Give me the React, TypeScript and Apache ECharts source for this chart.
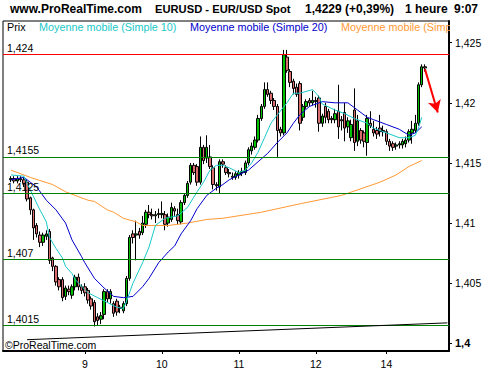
import React, { useEffect, useRef } from 'react';
import * as echarts from 'echarts';

const FONT = '"Liberation Sans", Arial, Helvetica, sans-serif';

// trading sessions: [day, first hour, last hour]
const sessions: [number, number, number][] = [
  [7, 23, 23], [8, 0, 23], [9, 0, 23], [10, 0, 23], [11, 0, 23], [12, 0, 19], [13, 22, 23], [14, 0, 19],
];
const times: string[] = sessions.flatMap(([day, from, to]) =>
  Array.from({ length: to - from + 1 }, (_, k) => `${day} ${String(from + k).padStart(2, '0')}:00`)
);

const opens = [
  null, null,
  1.4136, 1.4137, 1.4135, 1.4137, 1.4136, 1.4134, 1.4121, 1.4111, 1.4098, 1.4090,
  1.4084, 1.4089, 1.4093, 1.4071, 1.4064, 1.4053, 1.4053, 1.4039, 1.4045, 1.4040,
  1.4047, 1.4055, 1.4047, 1.4047, 1.4044, 1.4037, 1.4034, 1.4022, 1.4020, 1.4024,
  1.4043, 1.4037, 1.4033, 1.4035, 1.4030, 1.4027, 1.4033, 1.4054, 1.4091, 1.4090,
  1.4093, 1.4092, 1.4099, 1.4109, 1.4107, 1.4106, 1.4108, 1.4107, 1.4107, 1.4100,
  1.4103, 1.4112, 1.4107, 1.4101, 1.4117, 1.4123, 1.4134, 1.4148, 1.4147, 1.4134,
  1.4163, 1.4154, 1.4155, 1.4146, 1.4132, 1.4130, 1.4151, 1.4146, 1.4142, 1.4139,
  1.4138, 1.4140, 1.4142, 1.4142, 1.4150, 1.4160, 1.4163, 1.4169, 1.4187, 1.4197,
  1.4211, 1.4208, 1.4202, 1.4197, 1.4178, 1.4175, 1.4238, 1.4226, 1.4218, 1.4213,
  1.4216, 1.4188, 1.4197, 1.4202, 1.4200, 1.4202, 1.4204, 1.4183, 1.4197, 1.4193,
  1.4187, 1.4186, 1.4193, 1.4186, 1.4192, 1.4180, 1.4171, 1.4194, 1.4168, 1.4177,
  1.4175, 1.4167, 1.4183, 1.4178, 1.4177, 1.4179, 1.4177, 1.4176, 1.4168, 1.4166,
  1.4164, 1.4165, 1.4165, 1.4166, 1.4169, 1.4175, 1.4177, 1.4183, 1.4215, 1.4230,
];
const highs = [
  null, null,
  1.4139, 1.4139, 1.4139, 1.4139, 1.4138, 1.4136, 1.4122, 1.4112, 1.4100, 1.4093,
  1.4092, 1.4094, 1.4095, 1.4072, 1.4065, 1.4055, 1.4055, 1.4048, 1.4048, 1.4049,
  1.4057, 1.4058, 1.4049, 1.4050, 1.4046, 1.4039, 1.4036, 1.4025, 1.4026, 1.4045,
  1.4045, 1.4045, 1.4035, 1.4037, 1.4032, 1.4035, 1.4056, 1.4090, 1.4094, 1.4102,
  1.4096, 1.4106, 1.4111, 1.4115, 1.4112, 1.4110, 1.4112, 1.4118, 1.4110, 1.4108,
  1.4117, 1.4114, 1.4112, 1.4119, 1.4125, 1.4135, 1.4150, 1.4150, 1.4149, 1.4172,
  1.4165, 1.4173, 1.4165, 1.4148, 1.4134, 1.4153, 1.4153, 1.4148, 1.4145, 1.4142,
  1.4143, 1.4144, 1.4146, 1.4152, 1.4163, 1.4167, 1.4172, 1.4190, 1.4199, 1.4217,
  1.4217, 1.4210, 1.4204, 1.4199, 1.4180, 1.4244, 1.4244, 1.4228, 1.4220, 1.4216,
  1.4218, 1.4199, 1.4203, 1.4204, 1.4210, 1.4205, 1.4206, 1.4191, 1.4200, 1.4195,
  1.4189, 1.4195, 1.4215, 1.4189, 1.4200, 1.4188, 1.4186, 1.4212, 1.4190, 1.4179,
  1.4177, 1.4190, 1.4193, 1.4185, 1.4180, 1.4190, 1.4181, 1.4178, 1.4170, 1.4168,
  1.4167, 1.4168, 1.4170, 1.4172, 1.4178, 1.4185, 1.4190, 1.4217, 1.4232, 1.4232,
];
const lows = [
  null, null,
  1.4134, 1.4133, 1.4133, 1.4134, 1.4130, 1.4118, 1.4107, 1.4086, 1.4088, 1.4080,
  1.4081, 1.4086, 1.4066, 1.4060, 1.4048, 1.4044, 1.4035, 1.4036, 1.4040, 1.4037,
  1.4044, 1.4044, 1.4041, 1.4039, 1.4033, 1.4028, 1.4014, 1.4015, 1.4016, 1.4020,
  1.4034, 1.4033, 1.4022, 1.4023, 1.4025, 1.4025, 1.4031, 1.4052, 1.4083, 1.4069,
  1.4087, 1.4090, 1.4096, 1.4104, 1.4103, 1.4100, 1.4104, 1.4104, 1.4094, 1.4097,
  1.4101, 1.4106, 1.4099, 1.4099, 1.4115, 1.4121, 1.4132, 1.4140, 1.4131, 1.4132,
  1.4149, 1.4150, 1.4145, 1.4128, 1.4127, 1.4125, 1.4146, 1.4140, 1.4138, 1.4136,
  1.4136, 1.4137, 1.4139, 1.4140, 1.4148, 1.4157, 1.4161, 1.4167, 1.4185, 1.4195,
  1.4205, 1.4199, 1.4194, 1.4155, 1.4172, 1.4173, 1.4225, 1.4213, 1.4207, 1.4205,
  1.4177, 1.4185, 1.4195, 1.4197, 1.4198, 1.4196, 1.4176, 1.4180, 1.4183, 1.4183,
  1.4183, 1.4183, 1.4170, 1.4177, 1.4168, 1.4175, 1.4168, 1.4160, 1.4164, 1.4166,
  1.4163, 1.4156, 1.4179, 1.4172, 1.4170, 1.4172, 1.4172, 1.4165, 1.4160, 1.4160,
  1.4161, 1.4162, 1.4162, 1.4163, 1.4167, 1.4166, 1.4175, 1.4181, 1.4213, 1.4226,
];
const closes = [
  null, null,
  1.4137, 1.4135, 1.4137, 1.4136, 1.4133, 1.4120, 1.4111, 1.4096, 1.4091, 1.4084,
  1.4090, 1.4091, 1.4069, 1.4064, 1.4051, 1.4047, 1.4038, 1.4046, 1.4043, 1.4047,
  1.4055, 1.4047, 1.4044, 1.4042, 1.4036, 1.4031, 1.4018, 1.4019, 1.4023, 1.4043,
  1.4037, 1.4043, 1.4025, 1.4026, 1.4029, 1.4033, 1.4054, 1.4088, 1.4088, 1.4091,
  1.4090, 1.4100, 1.4109, 1.4107, 1.4106, 1.4107, 1.4107, 1.4108, 1.4099, 1.4105,
  1.4113, 1.4110, 1.4102, 1.4117, 1.4123, 1.4133, 1.4148, 1.4142, 1.4134, 1.4163,
  1.4152, 1.4163, 1.4147, 1.4132, 1.4131, 1.4151, 1.4149, 1.4142, 1.4141, 1.4138,
  1.4141, 1.4142, 1.4143, 1.4150, 1.4161, 1.4164, 1.4169, 1.4187, 1.4197, 1.4211,
  1.4207, 1.4202, 1.4197, 1.4177, 1.4175, 1.4240, 1.4227, 1.4217, 1.4212, 1.4207,
  1.4183, 1.4197, 1.4201, 1.4200, 1.4202, 1.4201, 1.4183, 1.4189, 1.4188, 1.4186,
  1.4186, 1.4191, 1.4180, 1.4185, 1.4179, 1.4185, 1.4182, 1.4167, 1.4185, 1.4169,
  1.4168, 1.4187, 1.4181, 1.4175, 1.4174, 1.4176, 1.4176, 1.4168, 1.4164, 1.4163,
  1.4165, 1.4166, 1.4168, 1.4169, 1.4176, 1.4178, 1.4183, 1.4215, 1.4230, 1.4229,
];

// moving averages: [candle index, value]
const ma10: [number, number][] = [
  [2, 1.4140], [6, 1.4139], [7, 1.4133], [9, 1.4122], [11, 1.4111], [13, 1.4101], [14, 1.4088],
  [16, 1.4079], [18, 1.4071], [19, 1.4064], [21, 1.4058], [22, 1.4053], [26, 1.4042], [29, 1.4038],
  [32, 1.4034], [35, 1.4030], [37, 1.4029], [38, 1.4035], [40, 1.4050], [43, 1.4067], [45, 1.4080],
  [47, 1.4098], [50, 1.4104], [54, 1.4106], [57, 1.4113], [60, 1.4126], [62, 1.4134], [64, 1.4144],
  [66, 1.4148], [68, 1.4148], [70, 1.4146], [73, 1.4142], [75, 1.4144], [77, 1.4150], [79, 1.4159],
  [81, 1.4171], [83, 1.4183], [85, 1.4190], [88, 1.4200], [90, 1.4208], [92, 1.4208], [96, 1.4211],
  [98, 1.4205], [99, 1.4199], [103, 1.4194], [106, 1.4191], [109, 1.4187], [113, 1.4183], [115, 1.4179],
  [119, 1.4175], [123, 1.4171], [126, 1.4171], [128, 1.4173], [129, 1.4179], [130, 1.4188],
];
const ma20: [number, number][] = [
  [2, 1.4136], [6, 1.4138], [8, 1.4134], [10, 1.4130], [13, 1.4119], [16, 1.4111], [19, 1.4100],
  [21, 1.4086], [24, 1.4072], [25, 1.4067], [28, 1.4054], [31, 1.4046], [34, 1.4039], [37, 1.4038],
  [40, 1.4039], [43, 1.4047], [45, 1.4054], [48, 1.4067], [51, 1.4076], [53, 1.4081], [55, 1.4091],
  [58, 1.4102], [60, 1.4112], [63, 1.4123], [66, 1.4129], [68, 1.4132], [70, 1.4136], [73, 1.4140],
  [76, 1.4144], [79, 1.4151], [82, 1.4158], [85, 1.4167], [88, 1.4175], [90, 1.4183], [92, 1.4190],
  [95, 1.4197], [99, 1.4201], [103, 1.4200], [107, 1.4200], [110, 1.4194], [113, 1.4188], [115, 1.4186],
  [119, 1.4182], [123, 1.4178], [126, 1.4173], [128, 1.4175], [130, 1.4180],
];
const maLong: [number, number][] = [
  [2, 1.4144], [8, 1.4138], [15, 1.4132], [19, 1.4126], [23, 1.4122], [26, 1.4119], [28, 1.4118],
  [32, 1.4111], [34, 1.4109], [37, 1.4104], [41, 1.4101], [43, 1.4098], [45, 1.4098], [51, 1.4098],
  [57, 1.4100], [63, 1.4103], [68, 1.4104], [80, 1.4109], [92, 1.4116], [105, 1.4123], [117, 1.4134],
  [122, 1.4140], [126, 1.4147], [130, 1.4152],
];

const resistanceLevels = [1.424];
const supportLevels = [1.4155, 1.4125, 1.407, 1.4015];
const trendFrom: [number, number] = [7, 1.4003];
const trendTo: [number, number] = [138, 1.4017];
const arrowFrom: [number, number] = [131, 1.4228];
const arrowTo: [number, number] = [135, 1.4192];
const yTicks = [1.4, 1.405, 1.41, 1.415, 1.42, 1.425];

const CYAN = '#19c8c8';
const BLUE = '#0000cc';
const ORANGE = '#ff9933';

const fmt = (v: number) => String(Number(v.toFixed(4))).replace('.', ',');

function buildOption() {
  const candles = times.map((_, i) =>
    opens[i] == null ? '-' : [opens[i], closes[i], lows[i], highs[i]]
  );
  const levelItem = (v: number, color: string) => ({
    yAxis: v,
    lineStyle: { color, width: 1, type: 'solid' },
    label: {
      show: true,
      position: 'insideStartTop',
      formatter: fmt(v),
      color: '#000',
      fontSize: 10.5,
      fontFamily: FONT,
      distance: [4, 1],
    },
  });
  const markData: any[] = [
    ...resistanceLevels.map((v) => levelItem(v, '#ff0000')),
    ...supportLevels.map((v) => levelItem(v, '#008000')),
    [
      { coord: [times[trendFrom[0]], trendFrom[1]], lineStyle: { color: '#000', width: 1, type: 'solid' }, label: { show: false } },
      { coord: [times[trendTo[0]], trendTo[1]] },
    ],
    [
      { coord: [times[arrowFrom[0]], arrowFrom[1]], symbol: 'none', lineStyle: { color: '#ff0000', width: 2, type: 'solid' }, label: { show: false } },
      { coord: [times[arrowTo[0]], arrowTo[1]], symbol: 'arrow', symbolSize: [10, 12] },
    ],
  ];

  const txt = (x: number, y: number, text: string, fill: string, font: string, z = 5) => ({
    type: 'text',
    x,
    y,
    z,
    silent: true,
    style: { text, fill, font, align: 'left', verticalAlign: 'middle' },
  });
  const titleFont = `bold 12px ${FONT}`;
  const legendFont = `10.8px ${FONT}`;

  const showDay = (i: number, v: string) => i >= 12 && v.endsWith(' 00:00');

  const lineSeries = (data: [number, number][], color: string) => ({
    type: 'line',
    data,
    symbol: 'none',
    smooth: false,
    lineStyle: { color, width: 1 },
    itemStyle: { color },
    z: 4,
    silent: true,
  });

  return {
    animation: false,
    backgroundColor: '#ffffff',
    grid: { left: 3, right: 51, top: 21, bottom: 19, show: true, borderColor: '#000', borderWidth: 1 },
    xAxis: {
      type: 'category',
      data: times,
      boundaryGap: true,
      axisLine: { show: true, lineStyle: { color: '#000', width: 2 } },
      axisTick: { show: true, length: 3, alignWithLabel: true, interval: showDay, lineStyle: { color: '#000' } },
      axisLabel: {
        interval: showDay,
        formatter: (v: string) => v.split(' ')[0],
        color: '#000',
        fontSize: 10.5,
        fontFamily: FONT,
        margin: 7,
      },
      splitLine: { show: false },
    },
    yAxis: {
      type: 'value',
      position: 'right',
      min: 1.39936,
      max: 1.426805,
      axisLine: { show: true, lineStyle: { color: '#000', width: 2 } },
      axisTick: { show: true, length: 3, customValues: yTicks, lineStyle: { color: '#000' } },
      axisLabel: {
        customValues: yTicks,
        formatter: (v: number) => (v < 1.4001 ? `{b|${fmt(v)}}` : fmt(v)),
        color: '#000',
        fontSize: 10.5,
        fontFamily: FONT,
        margin: 6,
        rich: { b: { fontWeight: 'bold', fontSize: 11, fontFamily: FONT, color: '#000' } },
      },
      splitLine: { show: false },
    },
    graphic: [
      txt(10, 8.5, 'www.ProRealTime.com', '#000', titleFont),
      txt(155, 8.5, 'EURUSD - EUR/USD Spot', '#000', `bold 11.2px ${FONT}`),
      txt(305, 8.5, '1,4229 (+0,39%)', '#000', titleFont),
      txt(405, 8.5, '1 heure', '#000', titleFont),
      txt(454, 8.5, '9:07', '#000', titleFont),
      txt(7, 27, 'Prix', '#000', legendFont),
      txt(39, 27, 'Moyenne mobile (Simple 10)', CYAN, legendFont),
      txt(190, 27, 'Moyenne mobile (Simple 20)', BLUE, legendFont),
      txt(341, 27, 'Moyenne mobile (Simple 100)', ORANGE, legendFont),
      { type: 'rect', z: 6, silent: true, shape: { x: 450, y: 19, width: 50, height: 17 }, style: { fill: '#ffffff' } },
      txt(5, 344.5, '\u00A9ProRealTime.com', '#000', `10.5px ${FONT}`),
    ],
    series: [
      {
        type: 'candlestick',
        data: candles,
        barWidth: 3,
        z: 3,
        silent: true,
        itemStyle: {
          color: '#00c000',
          color0: '#d96c6c',
          borderColor: '#000',
          borderColor0: '#000',
          borderWidth: 1,
        },
        markLine: {
          silent: true,
          symbol: ['none', 'none'],
          precision: 5,
          animation: false,
          data: markData,
        },
      },
      lineSeries(maLong, ORANGE),
      lineSeries(ma20, BLUE),
      lineSeries(ma10, CYAN),
    ],
  };
}

export default function App() {
  const ref = useRef<HTMLDivElement>(null);
  useEffect(() => {
    if (!ref.current) return;
    const chart = echarts.init(ref.current, null, { renderer: 'svg' });
    chart.setOption(buildOption() as any);
    return () => chart.dispose();
  }, []);
  return (
    <div
      ref={ref}
      style={{ position: 'absolute', left: 0, top: 0, width: 500, height: 370, background: '#fff' }}
    />
  );
}
